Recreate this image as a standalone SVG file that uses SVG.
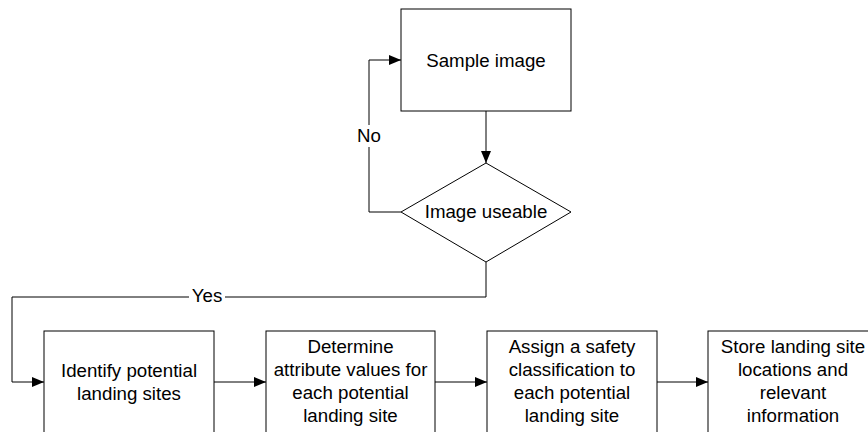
<svg xmlns="http://www.w3.org/2000/svg" width="868" height="432" viewBox="0 0 868 432">
<style>
.n{fill:#fff;stroke:#000;stroke-width:1}
.c{fill:none;stroke:#000;stroke-width:1}
text{font-family:"Liberation Sans",Arial,sans-serif;font-size:18.7px;fill:#000;text-anchor:middle}
</style>
<defs>
<marker id="a" viewBox="0 0 12 10" refX="12" refY="5" markerWidth="12" markerHeight="10" markerUnits="userSpaceOnUse" orient="auto">
<path d="M0,0L12,5L0,10Z" fill="#000"/>
</marker>
</defs>
<g id="connectors">
<path class="c" d="M486,111V163" marker-end="url(#a)"/>
<path class="c" d="M401,212H369V60H401" marker-end="url(#a)"/>
<path class="c" d="M486,262V297H12V382H44" marker-end="url(#a)"/>
<path class="c" d="M214,382H266" marker-end="url(#a)"/>
<path class="c" d="M435,382H487" marker-end="url(#a)"/>
<path class="c" d="M657,382H708" marker-end="url(#a)"/>
<rect x="356" y="125" width="26" height="22" fill="#fff"/>
<rect x="189" y="286" width="36" height="22" fill="#fff"/>
<text x="369" y="142">No</text>
<text x="207" y="302">Yes</text>
</g>
<g id="sample">
<rect class="n" x="401" y="9" width="170" height="102"/>
<text x="486" y="67">Sample image</text>
</g>
<g id="useable">
<path class="n" d="M486,163L571,212L486,262L401,212Z"/>
<text x="486" y="218">Image useable</text>
</g>
<g id="identify">
<rect class="n" x="44" y="331" width="170" height="120"/>
<text x="129" y="377">Identify potential</text>
<text x="129" y="400">landing sites</text>
</g>
<g id="determine">
<rect class="n" x="266" y="331" width="169" height="120"/>
<text x="350.5" y="353">Determine</text>
<text x="350.5" y="376">attribute values for</text>
<text x="350.5" y="399">each potential</text>
<text x="350.5" y="422">landing site</text>
</g>
<g id="assign">
<rect class="n" x="487" y="331" width="170" height="120"/>
<text x="572" y="353">Assign a safety</text>
<text x="572" y="376">classification to</text>
<text x="572" y="399">each potential</text>
<text x="572" y="422">landing site</text>
</g>
<g id="store">
<rect class="n" x="708" y="331" width="170" height="120"/>
<text x="793" y="353">Store landing site</text>
<text x="793" y="376">locations and</text>
<text x="793" y="399">relevant</text>
<text x="793" y="422">information</text>
</g>
</svg>
